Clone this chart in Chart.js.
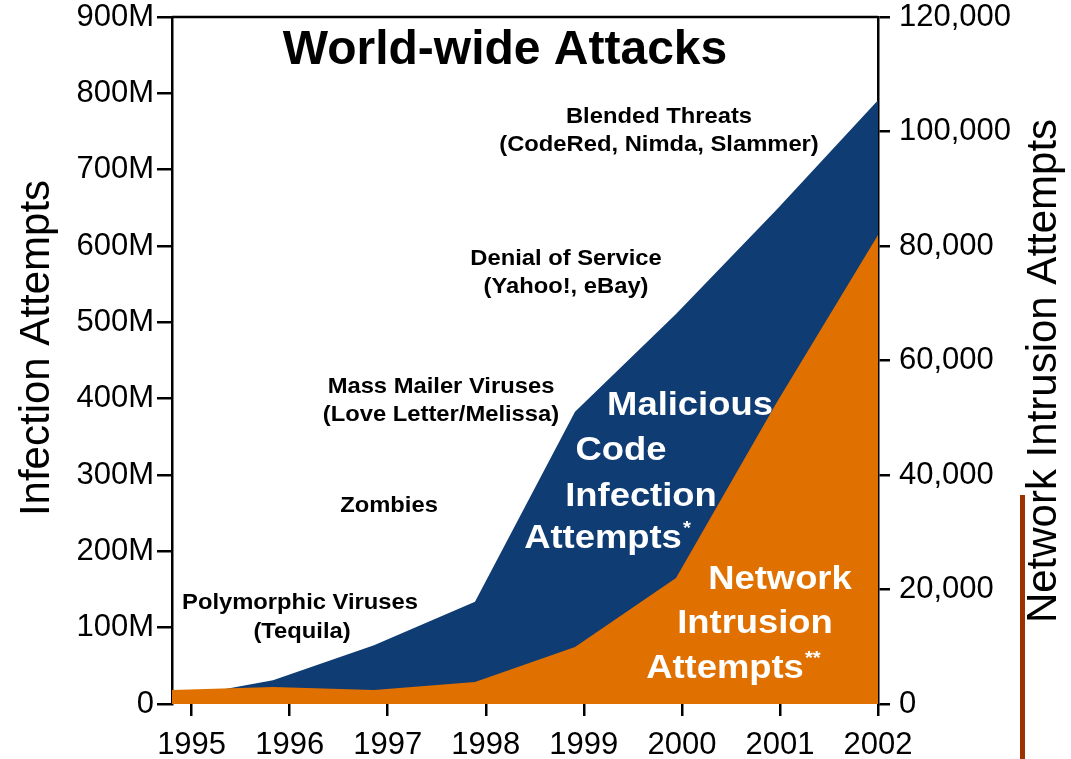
<!DOCTYPE html>
<html>

<head>
  <script src="https://cdn.jsdelivr.net/npm/chart.js"></script>
  <style>
    html, body { margin: 0; padding: 0; background: #fff; }
  </style>
</head>

<body>
  <canvas id="attacksChart" width="1071" height="759"></canvas>

  <script>
    // year labels on the bottom axis
    const years = [1995, 1996, 1997, 1998, 1999, 2000, 2001, 2002];
    const samplePos = [1994.80, 1995.83, 1996.86, 1997.89, 1998.91, 1999.94, 2000.97, 2002.0];
    // malicious code infection attempts, millions (left axis)
    const infections = [7, 31, 77, 134, 383, 511, 648, 791];
    // network intrusion attempts (right axis)
    const intrusions = [2450, 2970, 2450, 3840, 9960, 22000, 52750, 81900];

    const infectionTicks = [0, 100, 200, 300, 400, 500, 600, 700, 800, 900];
    const intrusionTicks = [0, 20000, 40000, 60000, 80000, 100000, 120000];

    const FONT = "'Liberation Sans', Arial, sans-serif";

    // text written over the plot (layout only)
    const notes = [
      { text: "World-wide Attacks", x: 505, y: 64, size: 48, color: "#000" },
      { text: "Blended Threats", x: 659, y: 123, size: 22, color: "#000", sx: 1.08 },
      { text: "(CodeRed, Nimda, Slammer)", x: 659, y: 151, size: 22, color: "#000", sx: 1.08 },
      { text: "Denial of Service", x: 566, y: 265, size: 22, color: "#000", sx: 1.08 },
      { text: "(Yahoo!, eBay)", x: 566, y: 293, size: 22, color: "#000", sx: 1.08 },
      { text: "Mass Mailer Viruses", x: 441, y: 393, size: 22, color: "#000", sx: 1.08 },
      { text: "(Love Letter/Melissa)", x: 441, y: 421, size: 22, color: "#000", sx: 1.08 },
      { text: "Zombies", x: 389, y: 512, size: 22, color: "#000", sx: 1.08 },
      { text: "Polymorphic Viruses", x: 300, y: 609, size: 22, color: "#000", sx: 1.08 },
      { text: "(Tequila)", x: 302, y: 638, size: 22, color: "#000", sx: 1.08 },
      { text: "Malicious", x: 690, y: 415, size: 34, color: "#fff", sx: 1.07 },
      { text: "Code", x: 621, y: 460, size: 34, color: "#fff", sx: 1.07 },
      { text: "Infection", x: 641, y: 506, size: 34, color: "#fff", sx: 1.07 },
      { text: "Attempts", x: 603, y: 548, size: 34, color: "#fff", sx: 1.07, sup: "*" },
      { text: "Network", x: 780, y: 589, size: 34, color: "#fff", sx: 1.07 },
      { text: "Intrusion", x: 755, y: 633, size: 34, color: "#fff", sx: 1.07 },
      { text: "Attempts", x: 725, y: 678, size: 34, color: "#fff", sx: 1.07, sup: "**" }
    ];

    const notesPlugin = {
      id: "notes",
      afterDraw(chart) {
        const c = chart.ctx;
        const area = chart.chartArea;
        c.save();

        // frame line along the top of the plot
        c.strokeStyle = "#000";
        c.lineWidth = 2.5;
        c.beginPath();
        c.moveTo(area.left, area.top);
        c.lineTo(area.right, area.top);
        c.stroke();

        c.textBaseline = "alphabetic";
        notes.forEach(n => {
          const sx = n.sx || 1;
          c.save();
          c.font = "bold " + n.size + "px " + FONT;
          c.fillStyle = n.color;
          c.textAlign = "center";
          c.translate(n.x, n.y);
          c.scale(sx, 1);
          c.fillText(n.text, 0, 0);
          if (n.sup) {
            const w = c.measureText(n.text).width;
            c.font = "bold " + Math.round(n.size * 0.55) + "px " + FONT;
            c.textAlign = "left";
            c.fillText(n.sup, w / 2 + 1, -n.size * 0.42);
          }
          c.restore();
        });

        // axis titles, both reading bottom to top
        c.fillStyle = "#000";
        c.font = "42px " + FONT;
        c.textAlign = "center";
        c.save();
        c.translate(49, 348);
        c.rotate(-Math.PI / 2);
        c.fillText("Infection Attempts", 0, 0);
        c.restore();
        c.save();
        c.translate(1056, 371);
        c.rotate(-Math.PI / 2);
        c.fillText("Network Intrusion Attempts", 0, 0);
        c.restore();

        // brown bar at the right edge
        c.fillStyle = "#9b3300";
        c.fillRect(1020, 495, 5, 264);
        c.restore();
      }
    };

    function points(values) {
      return samplePos.map((x, i) => ({ x: x, y: values[i] }));
    }

    function fixSide(width) {
      return s => {
        s.width = width;
        s.paddingTop = 0;
        s.paddingBottom = 0;
      };
    }

    const tickFont = { family: FONT, size: 31, lineHeight: 1 };

    new Chart(document.getElementById("attacksChart").getContext("2d"), {
      type: "line",
      data: {
        datasets: [
          {
            label: "Network Intrusion Attempts",
            data: points(intrusions),
            yAxisID: "y1",
            backgroundColor: "#e07000",
            borderWidth: 0,
            pointRadius: 0,
            fill: "origin",
            order: 0
          },
          {
            label: "Malicious Code Infection Attempts",
            data: points(infections),
            yAxisID: "y",
            backgroundColor: "#0e3c73",
            borderWidth: 0,
            pointRadius: 0,
            fill: "origin",
            order: 1
          }
        ]
      },
      options: {
        responsive: false,
        animation: false,
        devicePixelRatio: 1,
        layout: { padding: { top: 17, left: 0, right: 0, bottom: 0 } },
        plugins: {
          legend: { display: false },
          tooltip: { enabled: false }
        },
        scales: {
          x: {
            type: "linear",
            min: samplePos[0],
            max: 2002,
            afterBuildTicks: s => { s.ticks = years.map(v => ({ value: v })); },
            afterFit: s => { s.height = 55; },
            ticks: {
              font: tickFont,
              color: "#000",
              padding: 14,
              maxRotation: 0,
              autoSkip: false,
              callback: v => String(v)
            },
            grid: { drawOnChartArea: false, drawTicks: true, tickLength: 12, color: "#000", lineWidth: 2.5 },
            border: { display: false }
          },
          y: {
            position: "left",
            min: 0,
            max: 900,
            afterBuildTicks: s => { s.ticks = infectionTicks.map(v => ({ value: v })); },
            afterFit: fixSide(172),
            ticks: {
              font: tickFont,
              color: "#000",
              padding: 3,
              callback: v => v === 0 ? "0" : v + "M"
            },
            grid: { drawOnChartArea: false, tickLength: 15, color: "#000", lineWidth: 2.5 },
            border: { color: "#000", width: 2.5 }
          },
          y1: {
            position: "right",
            min: 0,
            max: 120000,
            afterBuildTicks: s => { s.ticks = intrusionTicks.map(v => ({ value: v })); },
            afterFit: fixSide(193),
            ticks: {
              font: tickFont,
              color: "#000",
              padding: 9,
              callback: v => v.toLocaleString("en-US")
            },
            grid: { drawOnChartArea: false, tickLength: 12, color: "#000", lineWidth: 2.5 },
            border: { color: "#000", width: 2.5 }
          }
        }
      },
      plugins: [notesPlugin]
    });
  </script>
</body>

</html>
